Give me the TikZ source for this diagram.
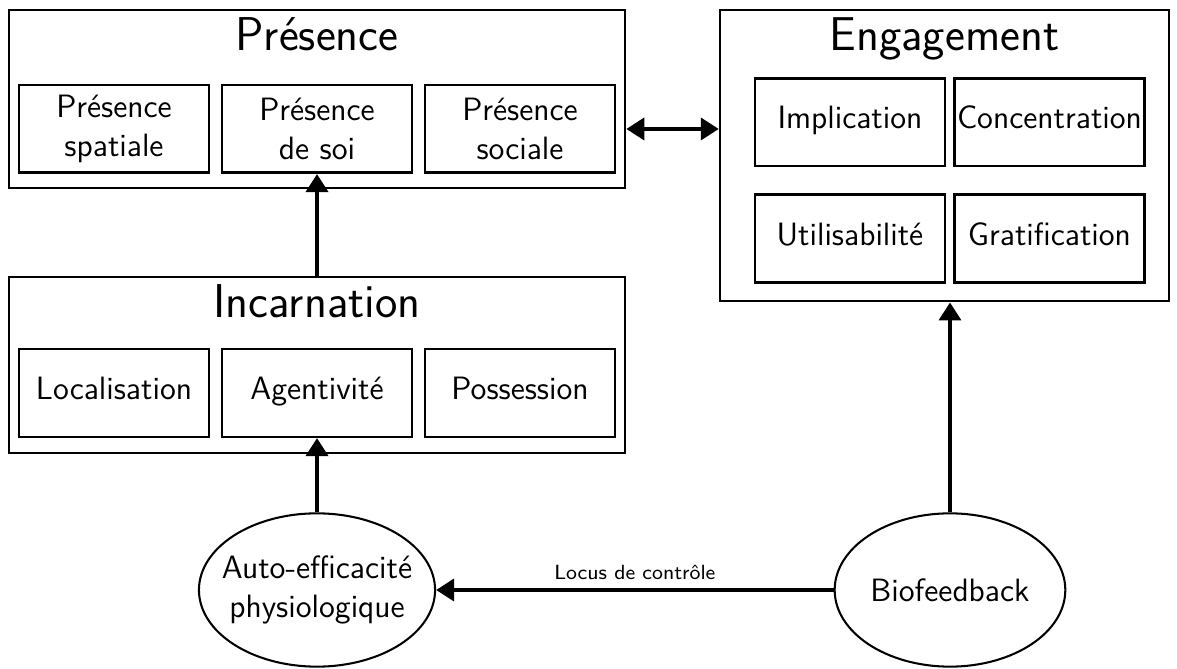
\documentclass[tikz,border=0pt]{standalone}
\usepackage{fontspec}
\usetikzlibrary{arrows.meta,shapes.geometric}

\newcommand{\itemfont}{\sffamily\fontsize{12.6}{15.2}\selectfont}

\begin{document}
\begin{tikzpicture}[
  font=\sffamily,
  group/.style={draw, line width=1pt, inner sep=0pt},
  grouptitle/.style={anchor=base, font=\sffamily\fontsize{18.5}{22}\selectfont},
  item/.style={draw, line width=1pt, minimum width=2.6cm, minimum height=1.2cm, inner sep=1pt, align=center, font=\itemfont},
  oneline/.style={item, text height=0.72em, text depth=0.2em},
  bubble/.style={draw, ellipse, line width=0.8pt, minimum width=3.16cm, minimum height=2.1cm, inner sep=0pt, align=center, font=\itemfont},
  link/.style={line width=1.6pt, -{Triangle[width=8.5pt,length=7pt]}}
]
\useasboundingbox (0, 0) rectangle (16.125, 9.152);

% Presence
\node[group, minimum width=8.44cm, minimum height=2.44cm] (presence) at (4.343, 7.795) {};
\node[grouptitle, yshift=-0.575cm] (presencetitle) at (presence.north) {Présence};
\node[item] (spatiale) at (1.562, 7.385) {Présence\\spatiale};
\node[item] (soi) at (4.343, 7.385) {Présence\\de soi};
\node[item] (sociale) at (7.124, 7.385) {Présence\\sociale};

% Incarnation
\node[group, minimum width=8.44cm, minimum height=2.41cm] (incarnation) at (4.343, 4.151) {};
\node[grouptitle, yshift=-0.575cm] (incarnationtitle) at (incarnation.north) {Incarnation};
\node[oneline] (localisation) at (1.562, 3.768) {Localisation};
\node[oneline] (agentivite) at (4.343, 3.768) {Agentivité};
\node[oneline] (possession) at (7.124, 3.768) {Possession};

% Engagement
\node[group, minimum width=6.15cm, minimum height=3.99cm] (engagement) at (12.94, 7.021) {};
\node[grouptitle, yshift=-0.575cm] (engagementtitle) at (engagement.north) {Engagement};
\node[oneline] (implication) at (11.645, 7.480) {Implication};
\node[oneline] (concentration) at (14.378, 7.480) {Concentration};
\node[oneline] (utilisabilite) at (11.645, 5.884) {Utilisabilité};
\node[oneline] (gratification) at (14.378, 5.884) {Gratification};

% bottom
\node[bubble, inner xsep=-4.5pt] (autoeff) at (4.343, 1.069) {Auto-efficacité\\physiologique};
\node[bubble] (biofeedback) at (13.015, 1.069) {Biofeedback};

\draw[link] (incarnation.north) -- (soi.south);
\draw[link] (autoeff.north) -- (agentivite.south);
\draw[link] (biofeedback.north) -- (biofeedback.north |- engagement.south);
\draw[link] (biofeedback.west) -- node[above, font=\sffamily\footnotesize]{Locus de contrôle} (autoeff.east);
\draw[link, {Triangle[width=8.5pt,length=7pt]}-{Triangle[width=8.5pt,length=7pt]}] (presence.east |- sociale) -- (engagement.west |- sociale);

\end{tikzpicture}
\end{document}
